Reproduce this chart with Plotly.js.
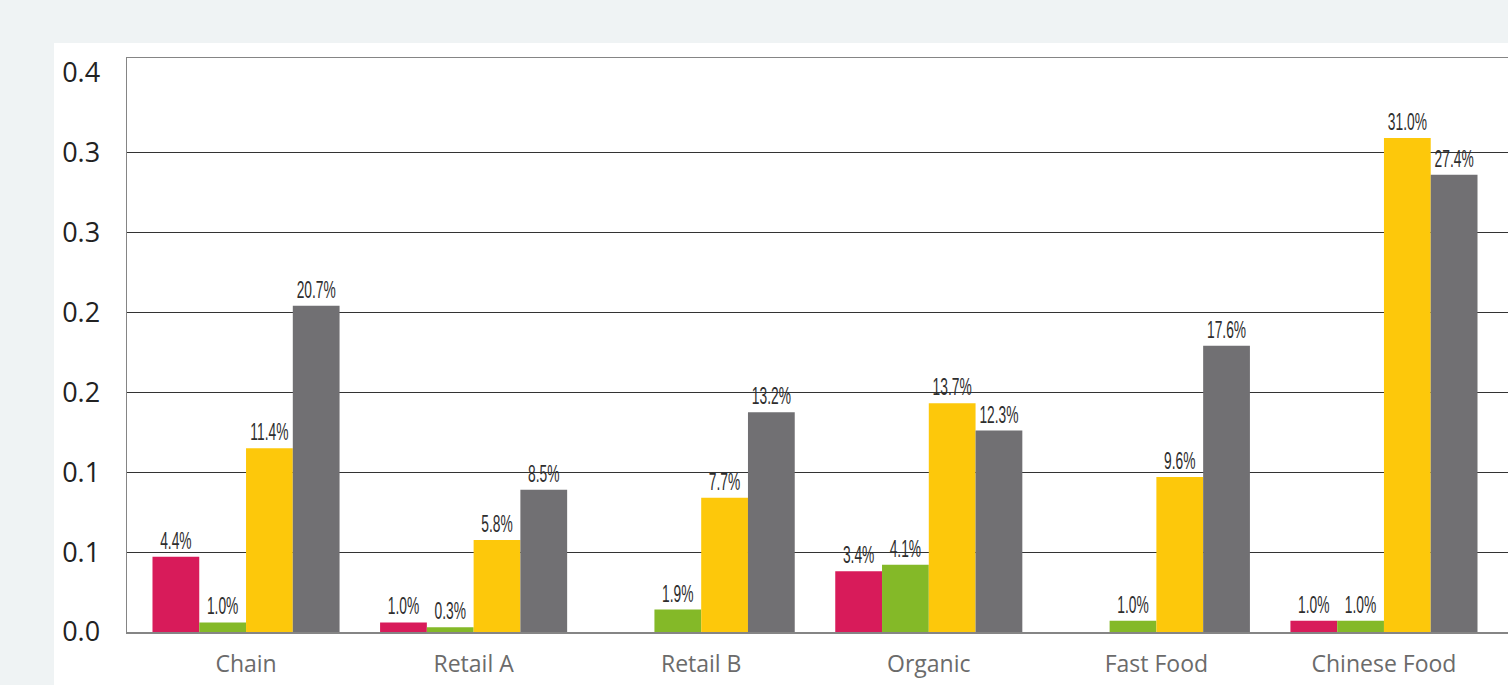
<!DOCTYPE html>
<html>
<head>
<meta charset="utf-8">
<script src="https://cdn.plot.ly/plotly-3.0.1.min.js"></script>
<style>
  html, body { margin: 0; padding: 0; background: #eff3f4; width: 1508px; height: 685px; overflow: hidden; }
  #chart { position: absolute; left: 54px; top: 43px; width: 1454px; height: 642px; background: #ffffff; }
</style>
</head>
<body>
<div id="chart"></div>
<script>
// ---- data (bar heights, labels as printed) ----
const categories = ['Chain', 'Retail A', 'Retail B', 'Organic', 'Fast Food', 'Chinese Food'];
const seriesRed    = [0.047, 0.006, null,  0.038, null,  0.007];
const seriesGreen  = [0.006, 0.003, 0.014, 0.042, 0.007, 0.007];
const seriesYellow = [0.115, 0.0575, 0.084, 0.143, 0.097, 0.309];
const seriesGray   = [0.204, 0.089, 0.1375, 0.126, 0.179, 0.286];
const labelsRed    = ['4.4%', '1.0%', '', '3.4%', '', '1.0%'];
const labelsGreen  = ['1.0%', '0.3%', '1.9%', '4.1%', '1.0%', '1.0%'];
const labelsYellow = ['11.4%', '5.8%', '7.7%', '13.7%', '9.6%', '31.0%'];
const labelsGray   = ['20.7%', '8.5%', '13.2%', '12.3%', '17.6%', '27.4%'];
const yTickVals  = [0, 0.05, 0.10, 0.15, 0.20, 0.25, 0.30, 0.35];
const yTickText  = ['0.0', '0.1', '0.1', '0.2', '0.2', '0.3', '0.3', '0.4'];
const gridVals   = [0.05, 0.10, 0.15, 0.20, 0.25, 0.30];

const labelFont = { family: '"Liberation Sans", Arial, sans-serif', size: 23, color: '#2e2e2e' };

function barTrace(name, values, labels, color) {
  return {
    type: 'bar', name: name, x: categories, y: values,
    text: labels, texttemplate: '%{text}', textposition: 'outside',
    outsidetextfont: labelFont, textfont: labelFont, constraintext: 'none',
    marker: { color: color },
    cliponaxis: false, hoverinfo: 'x+text', showlegend: false
  };
}

const data = [
  barTrace('Series 1', seriesRed, labelsRed, '#d81b5a'),
  barTrace('Series 2', seriesGreen, labelsGreen, '#84b928'),
  barTrace('Series 3', seriesYellow, labelsYellow, '#fdc80b'),
  barTrace('Series 4', seriesGray, labelsGray, '#717073'),
  { type: 'scatter', mode: 'markers', x: categories, y: seriesGray, yaxis: 'y2',
    marker: { opacity: 0 }, hoverinfo: 'skip', showlegend: false }
];

const yRange = [0, 0.359];
const layout = {
  width: 1454, height: 642,
  margin: { l: 73, r: 0, t: 15, b: 53 },
  paper_bgcolor: '#ffffff', plot_bgcolor: '#ffffff',
  barmode: 'group', bargap: 0.178, bargroupgap: 0,
  xaxis: {
    type: 'category', range: [-0.523, 5.545],
    showline: true, mirror: true, linecolor: '#858585', linewidth: 1.5,
    showgrid: false, zeroline: false, ticks: '',
    tickfont: { family: '"Open Sans", sans-serif', size: 23, color: '#6b6b6b' },
    ticklabelstandoff: 11
  },
  yaxis: {
    range: yRange, tickvals: yTickVals, ticktext: yTickText,
    showgrid: false, zeroline: false, showline: true, linecolor: '#858585', linewidth: 1.5,
    ticks: '', ticklabelstandoff: 20,
    tickfont: { family: '"Open Sans", sans-serif', size: 27, color: '#222222' }
  },
  yaxis2: {
    overlaying: 'y', side: 'left', range: yRange, tickvals: gridVals,
    showgrid: true, gridcolor: '#333333', gridwidth: 1,
    showticklabels: false, zeroline: false, showline: false, ticks: ''
  }
};

// narrow the value labels horizontally (condensed look), keeping them as real text
function condenseLabels() {
  document.querySelectorAll('#chart text.bartext').forEach(function (t) {
    if (t.getAttribute('data-condensed')) return;
    const bb = t.getBBox();
    const cx = bb.x + bb.width / 2;
    const cy = bb.y + bb.height;
    const base = t.getAttribute('transform') || '';
    t.setAttribute('transform', base + ' translate(' + cx + ',' + cy + ') scale(0.6,1) translate(' + (-cx) + ',' + (-cy) + ')');
    t.setAttribute('data-condensed', '1');
  });
}

Plotly.newPlot('chart', data, layout, { displayModeBar: false, staticPlot: true }).then(condenseLabels);
</script>
</body>
</html>
